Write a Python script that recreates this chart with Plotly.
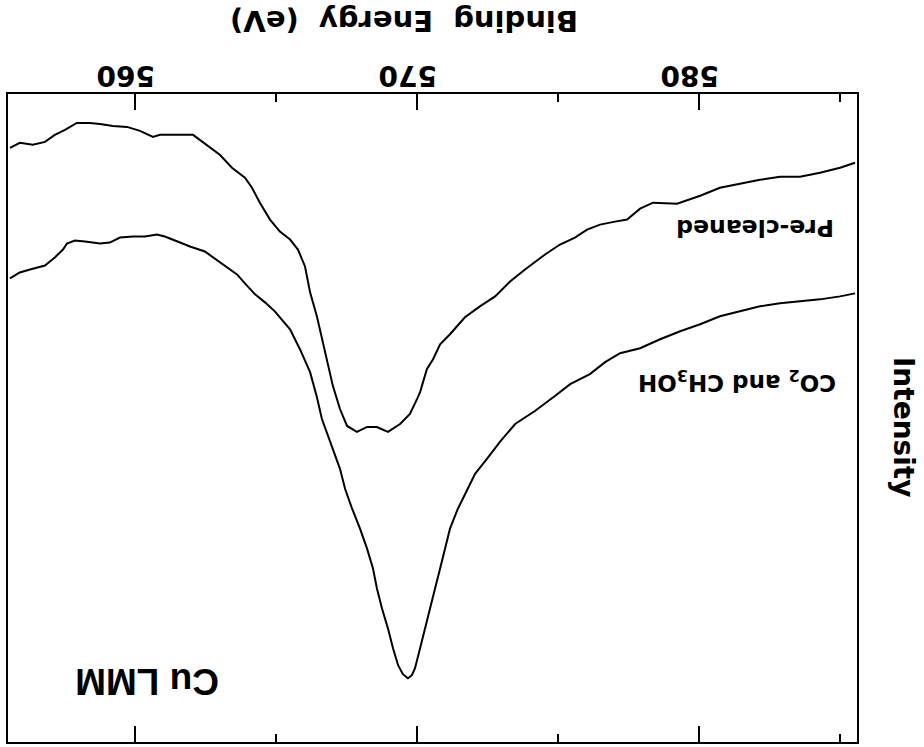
import plotly.graph_objects as go

# Binding energy (eV) and intensity (arb. units, larger = lower on the page)
energy_pre = [555.57,555.92,556.38,556.81,557.16,557.52,557.94,558.40,558.76,559.22,
              559.72,560.18,560.64,560.89,561.13,561.60,562.06,562.30,562.66,563.01,
              563.44,563.90,564.15,564.43,564.79,565.14,565.50,565.78,566.03,566.21,
              566.45,566.63,566.81,567.02,567.27,567.52,567.87,568.23,568.58,568.97,
              569.40,569.75,570.00,570.11,570.35,570.57,570.82,571.17,571.70,572.23,
              572.77,573.30,573.83,574.54,575.07,575.60,576.03,576.49,577.02,577.45,
              577.91,578.37,579.22,580.04,580.74,581.45,582.16,582.87,583.58,584.29,
              585.00,585.53]
intensity_pre = [54,49,51,48,41,36,29,29,30,32,
                 33,37,43,41,41,41,41,46,54,61,
                 74,84,94,109,126,138,146,156,173,199,
                 223,246,269,293,316,333,339,334,334,339,
                 331,321,306,299,276,266,251,241,224,213,
                 203,188,176,161,151,144,136,131,128,126,
                 115,109,110,102,94,90,86,83,83,79,
                 74,69]

energy_co2 = [555.57,555.92,556.28,556.81,557.16,557.45,557.59,557.87,558.23,558.48,
              558.76,559.11,559.47,559.93,560.35,560.78,561.06,561.60,561.95,562.48,
              562.84,563.30,563.62,563.90,564.26,564.61,564.96,565.50,565.85,566.21,
              566.45,566.63,566.84,567.02,567.27,567.45,567.70,567.98,568.23,568.44,
              568.58,568.76,568.97,569.15,569.33,569.50,569.68,569.82,569.93,570.11,
              570.28,570.46,570.64,570.82,570.99,571.17,571.45,571.70,572.06,572.48,
              572.94,573.48,574.18,574.89,575.43,576.13,576.67,577.20,577.91,578.62,
              579.33,580.04,580.74,581.45,582.16,582.87,583.58,584.29,585.00,585.53]
intensity_co2 = [185,179,176,172,164,156,150,147,148,149,
                 150,149,144,143,143,141,143,149,153,158,
                 165,174,181,190,201,209,218,236,256,279,
                 304,326,343,356,376,396,416,436,456,476,
                 496,516,536,556,573,582,586,583,576,556,
                 536,516,496,476,456,436,416,401,381,366,
                 349,331,318,303,291,281,269,260,255,246,
                 238,231,223,218,213,210,208,206,203,200]

tick_vals = [560, 570, 580]
tick_text = ["560", "570", "580"]
x_range = [555.50, 585.60]
y_range = [650, 0]

BOLD = "DejaVu Sans"
ARIAL = "Liberation Sans, Arial"

fig = go.Figure()
fig.add_trace(go.Scatter(x=energy_pre, y=intensity_pre, mode="lines",
                         line=dict(color="black", width=2), showlegend=False))
fig.add_trace(go.Scatter(x=energy_co2, y=intensity_co2, mode="lines",
                         line=dict(color="black", width=2), showlegend=False))

fig.update_layout(
    width=924, height=747,
    margin=dict(l=8, r=67, t=94, b=3),
    paper_bgcolor="white", plot_bgcolor="white",
    xaxis=dict(range=x_range, side="top", tickmode="array",
               tickvals=tick_vals, ticktext=tick_text, tickangle=180,
               ticklabelshift=20, ticklabelstandoff=-13,
               ticks="inside", ticklen=16, tickwidth=1.5, tickcolor="black",
               minor=dict(dtick=5, tick0=555, ticks="inside", ticklen=8,
                          tickwidth=1.5, tickcolor="black"),
               showline=True, linecolor="black", linewidth=2, mirror="ticks",
               showgrid=False, zeroline=False,
               tickfont=dict(family=BOLD, size=28, color="black", weight="bold")),
    yaxis=dict(range=y_range, showticklabels=False, ticks="",
               showline=True, linecolor="black", linewidth=2, mirror=True,
               showgrid=False, zeroline=False),
)

def ann(text, x, y, size, angle=180, family=BOLD):
    fig.add_annotation(text=text, x=x, y=y, xref="paper", yref="paper",
                       showarrow=False, textangle=angle,
                       xanchor="center", yanchor="middle",
                       font=dict(family=family, size=size, color="black", weight="bold"))

ann("Binding\u00a0 Energy\u00a0 (eV)", 0.4664, 1.1138, 29)
ann("Intensity", 1.0542, 0.4862, 28, angle=90)
ann("Pre-cleaned", 0.8799, 0.7923, 23.5)
ann("CO<sub>2</sub> and CH<sub>3</sub>OH", 0.8587, 0.5569, 23)
ann("Cu LMM", 0.1637, 0.0923, 37, family=ARIAL)

fig.write_html("out.html")
